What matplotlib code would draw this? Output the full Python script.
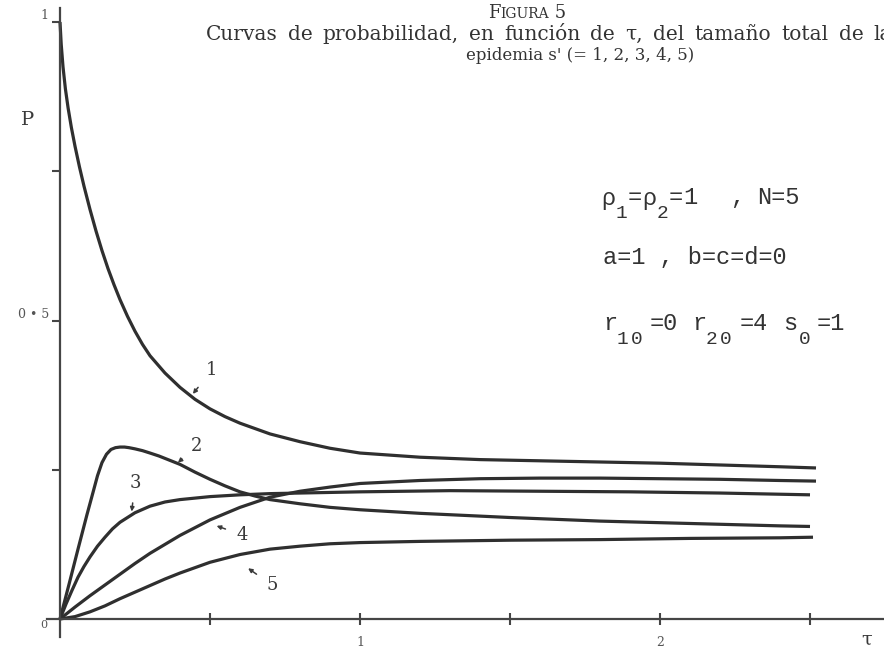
import matplotlib
matplotlib.use("Agg")
import matplotlib.pyplot as plt

# Probability of total epidemic size s' = 1..5 as a function of tau
tau_1 = [0, 0.004, 0.01, 0.018, 0.027, 0.038, 0.05, 0.065, 0.08, 0.1, 0.12, 0.14,
         0.16, 0.18, 0.2, 0.225, 0.25, 0.275, 0.3, 0.35, 0.4, 0.45, 0.5, 0.55,
         0.6, 0.7, 0.8, 0.9, 1.0, 1.2, 1.4, 1.6, 1.8, 2.0, 2.2, 2.4, 2.52]
p_1 = [1.0, 0.963, 0.925, 0.888, 0.856, 0.823, 0.792, 0.757, 0.725, 0.686, 0.65,
       0.617, 0.587, 0.56, 0.535, 0.507, 0.482, 0.46, 0.441, 0.412, 0.388, 0.368,
       0.352, 0.339, 0.328, 0.31, 0.297, 0.286, 0.278, 0.271, 0.267, 0.265,
       0.263, 0.261, 0.258, 0.255, 0.253]

tau_2 = [0, 0.03, 0.06, 0.09, 0.11, 0.125, 0.14, 0.155, 0.17, 0.185, 0.2, 0.215,
         0.23, 0.25, 0.275, 0.3, 0.33, 0.36, 0.4, 0.45, 0.5, 0.55, 0.6, 0.65, 0.7,
         0.8, 0.9, 1.0, 1.2, 1.5, 1.8, 2.1, 2.4, 2.5]
p_2 = [0, 0.058, 0.117, 0.175, 0.212, 0.24, 0.262, 0.276, 0.284, 0.287, 0.288,
       0.288, 0.287, 0.285, 0.282, 0.278, 0.273, 0.267, 0.259, 0.246, 0.234,
       0.223, 0.213, 0.206, 0.2, 0.193, 0.187, 0.183, 0.177, 0.17, 0.164, 0.16,
       0.156, 0.155]

tau_3 = [0, 0.02, 0.04, 0.06, 0.08, 0.1, 0.125, 0.15, 0.175, 0.2, 0.25, 0.3, 0.35,
         0.4, 0.5, 0.6, 0.7, 0.8, 1.0, 1.3, 1.6, 1.9, 2.2, 2.5]
p_3 = [0, 0.025, 0.048, 0.07, 0.088, 0.104, 0.122, 0.137, 0.151, 0.162, 0.178,
       0.189, 0.196, 0.2, 0.205, 0.208, 0.21, 0.211, 0.213, 0.215, 0.214, 0.213,
       0.211, 0.208]

tau_4 = [0, 0.05, 0.1, 0.15, 0.2, 0.25, 0.3, 0.4, 0.5, 0.6, 0.7, 0.8, 0.9, 1.0,
         1.2, 1.4, 1.6, 1.8, 2.0, 2.2, 2.4, 2.52]
p_4 = [0, 0.02, 0.039, 0.057, 0.075, 0.093, 0.11, 0.14, 0.166, 0.187, 0.204,
       0.214, 0.221, 0.227, 0.232, 0.235, 0.236, 0.236, 0.235, 0.234, 0.232, 0.231]

tau_5 = [0, 0.05, 0.1, 0.15, 0.2, 0.25, 0.3, 0.35, 0.4, 0.45, 0.5, 0.6, 0.7, 0.8,
         0.9, 1.0, 1.2, 1.5, 1.8, 2.1, 2.4, 2.51]
p_5 = [0, 0.004, 0.012, 0.022, 0.034, 0.045, 0.056, 0.067, 0.077, 0.086, 0.095,
       0.108, 0.117, 0.122, 0.126, 0.128, 0.13, 0.132, 0.133, 0.135, 0.136, 0.137]

curve_names = ["1", "2", "3", "4", "5"]
x_ticks = [0.5, 1, 1.5, 2, 2.5]
x_tick_labels = ["", "1", "", "2", ""]
y_ticks = [0.25, 0.5, 0.75, 1]
y_tick_labels = ["", "0 \u2022 5", "", "1"]

title_main = "Curvas de probabilidad, en funci\u00f3n de \u03c4, del tama\u00f1o total de la"
title_sub = "epidemia s' (= 1, 2, 3, 4, 5)"

W, H, DPI = 884, 652, 100
X0, XS = 60, 300     # pixel of tau = 0, pixels per unit of tau
Y0, YS = 619, 597    # pixel row of P = 0, pixels per unit of P

INK = "#2f2f2f"
AXIS = "#454545"

fig = plt.figure(figsize=(W / DPI, H / DPI), dpi=DPI)
fig.patch.set_facecolor("white")
ax = fig.add_axes([0, 0, 1, 1])
ax.set_facecolor("white")
ax.set_xlim(-X0 / XS, (W - X0) / XS)
ax.set_ylim((Y0 - H) / YS, Y0 / YS)


def fx(px):
    return px / W


def fy(py):
    return 1 - py / H


# axes drawn through the origin
for side in ("top", "right"):
    ax.spines[side].set_visible(False)
ax.spines["left"].set_position(("data", 0))
ax.spines["bottom"].set_position(("data", 0))
ax.spines["left"].set_bounds(-0.03, 1.023)
ax.spines["bottom"].set_bounds(-0.043, 2.75)
for side in ("left", "bottom"):
    ax.spines[side].set_linewidth(1.6)
    ax.spines[side].set_color(AXIS)

ax.set_xticks(x_ticks, x_tick_labels)
ax.set_yticks(y_ticks, y_tick_labels)
ax.tick_params(axis="x", direction="inout", length=9, width=1.5, color=AXIS,
               pad=8, labelsize=9, labelcolor="#555555")
ax.tick_params(axis="y", direction="out", length=6, width=1.5, color=AXIS,
               pad=2, labelsize=9, labelcolor="#555555")
for lab in ax.get_xticklabels() + ax.get_yticklabels():
    lab.set_family("DejaVu Serif")
for lab in ax.get_yticklabels():
    lab.set_va("bottom")

series = [(tau_1, p_1), (tau_2, p_2), (tau_3, p_3), (tau_4, p_4), (tau_5, p_5)]
for t, p in series:
    ax.plot(t, p, color=INK, lw=2.3, solid_capstyle="butt", solid_joinstyle="round")

# curve labels with pointers: (text position, arrow tip)
label_spots = [((0.506, 0.417), (0.443, 0.377)),
               ((0.456, 0.289), (0.393, 0.262)),
               ((0.25, 0.228), (0.239, 0.18)),
               ((0.606, 0.141), (0.522, 0.156)),
               ((0.706, 0.057), (0.627, 0.085))]
for name, (txt, tip) in zip(curve_names, label_spots):
    ax.annotate(name, xy=tip, xytext=txt, ha="center", va="center",
                family="DejaVu Serif", fontsize=13, color="#3a3a3a",
                arrowprops=dict(arrowstyle="-|>", color="#3a3a3a", lw=1.1,
                                mutation_scale=6, shrinkA=6, shrinkB=0))

ax.text(-0.055, -0.01, "0", ha="center", va="center", fontsize=8,
        family="DejaVu Serif", color="#555555")
ax.text(fx(28), fy(120), "P", transform=fig.transFigure, ha="center",
        va="center", family="DejaVu Serif", fontsize=14, color="#3a3a3a")
ax.text(fx(867), fy(640), "\u03c4", transform=fig.transFigure, ha="center",
        va="center", family="DejaVu Serif", fontsize=14, color="#3a3a3a")

# heading: small-caps figure number
f_cap = fig.text(fx(488), fy(18), "F", family="DejaVu Serif", fontsize=13,
                 va="baseline", color="#333333")
f_rest = ax.annotate("IGURA", xy=(1, fy(18)), xycoords=(f_cap, "figure fraction"),
                     family="DejaVu Serif", fontsize=10, va="baseline",
                     color="#333333")
ax.annotate(" 5", xy=(1, fy(18)), xycoords=(f_rest, "figure fraction"),
            family="DejaVu Serif", fontsize=13, va="baseline", color="#333333")

# first caption line is justified, running past the right edge
renderer = fig.canvas.get_renderer()
words = title_main.split(" ")
word_texts = [fig.text(0, fy(34), w, family="DejaVu Serif", fontsize=14.5,
                       va="center", ha="left", color="#333333") for w in words]
widths = [t.get_window_extent(renderer).width for t in word_texts]
line_start, line_end = 206, 892
gap = (line_end - line_start - sum(widths)) / (len(words) - 1)
cursor = line_start
for t, wd in zip(word_texts, widths):
    t.set_x(fx(cursor))
    cursor += wd + gap

fig.text(fx(580), fy(56), title_sub, family="DejaVu Serif", fontsize=12,
         va="center", ha="center", color="#333333")

# parameter block in typewriter type, subscripts dropped below the line
MONO = dict(family="Liberation Mono", fontsize=17, color="#333333",
            va="center", ha="left", transform=fig.transFigure)
SUBSTYLE = dict(MONO, fontsize=14)
SUB = 16
rows = [
    (198, [(601, "\u03c1", 0), (616, "1", SUB), (628, "=", 0), (642, "\u03c1", 0),
           (657, "2", SUB), (669, "=", 0), (683, "1", 0), (730, ",", 0),
           (757, "N=5", 0)]),
    (258, [(603, "a=1 , b=c=d=0", 0)]),
    (323, [(603, "r", 0), (617, "1", SUB), (631, "0", SUB), (650, "=0", 0),
           (692, "r", 0), (706, "2", SUB), (720, "0", SUB), (740, "=4", 0),
           (783, "s", 0), (799, "0", SUB), (817, "=1", 0)]),
]
for row_y, pieces in rows:
    for px, s, dy in pieces:
        style = SUBSTYLE if dy else MONO
        fig.text(fx(px), fy(row_y + dy), s, **style)

fig.savefig("out.png", dpi=DPI, facecolor="white")
